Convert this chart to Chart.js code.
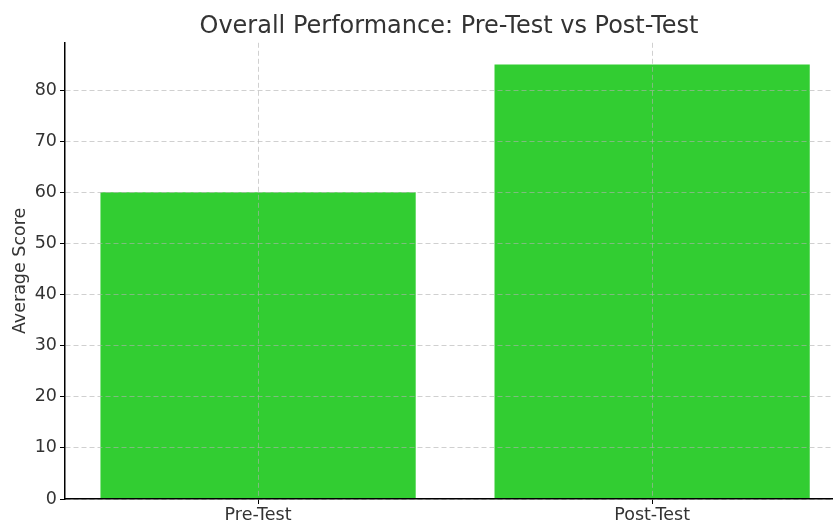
<!DOCTYPE html>
<html>
<head>
<meta charset="utf-8">
<script src="https://cdn.jsdelivr.net/npm/chart.js@4"></script>
<style>
  body { margin: 0; background: #fff; }
  #chart { display: block; }
</style>
</head>
<body>
<canvas id="chart" width="833" height="522"></canvas>
<script>
const categories = ["Pre-Test", "Post-Test"];
const scores = [60, 85];
const yTicks = [0, 10, 20, 30, 40, 50, 60, 70, 80];

const gridColor = 'rgba(176,176,176,0.6)';
const textColor = '#333333';
const font = 'DejaVu Sans';

const chart = new Chart('chart', {
    type: 'bar',
    data: {
        datasets: [{
            label: 'Average Score',
            data: scores.map((s, i) => ({ x: i, y: s })),
            backgroundColor: '#32CD32',
            borderWidth: 0,
            barPercentage: 0.8,
            categoryPercentage: 1
        }]
    },
    options: {
        responsive: false,
        animation: false,
        layout: { padding: { left: 0, right: 0, top: 0, bottom: 0 } },
        plugins: {
            legend: { display: false },
            tooltip: { enabled: false },
            title: {
                display: true,
                fullSize: false,
                text: 'Overall Performance: Pre-Test vs Post-Test',
                color: textColor,
                font: { family: font, size: 24, weight: 'normal' },
                padding: { top: 12, bottom: 2 }
            }
        },
        scales: {
            x: {
                type: 'linear',
                min: -0.49,
                max: 1.459,
                offset: false,
                z: 1,
                afterBuildTicks: (axis) => {
                    axis.ticks = categories.map((c, i) => ({ value: i }));
                },
                afterFit: (scale) => { scale.height = 23; },
                ticks: {
                    callback: (v) => categories[v],
                    color: textColor,
                    font: { family: font, size: 17.5 },
                    padding: 1,
                    maxRotation: 0
                },
                grid: {
                    offset: false,
                    z: 1,
                    color: gridColor,
                    tickColor: '#000',
                    tickLength: 5,
                    tickBorderDash: []
                },
                border: { color: '#000', width: 1.5, dash: [5, 3], z: 2 }
            },
            y: {
                min: 0,
                max: 89.25,
                z: 1,
                afterBuildTicks: (axis) => {
                    axis.ticks = yTicks.map(v => ({ value: v }));
                },
                afterFit: (scale) => { scale.width = 65; },
                ticks: {
                    color: textColor,
                    font: { family: font, size: 17.5 },
                    padding: 3
                },
                title: {
                    display: true,
                    text: 'Average Score',
                    color: textColor,
                    font: { family: font, size: 17.5 },
                    padding: { top: 10, bottom: 0 }
                },
                grid: {
                    z: 1,
                    color: gridColor,
                    tickColor: '#000',
                    tickLength: 5,
                    tickBorderDash: []
                },
                border: { color: '#000', width: 1.5, dash: [5, 3], z: 2 }
            }
        }
    }
});
</script>
</body>
</html>
